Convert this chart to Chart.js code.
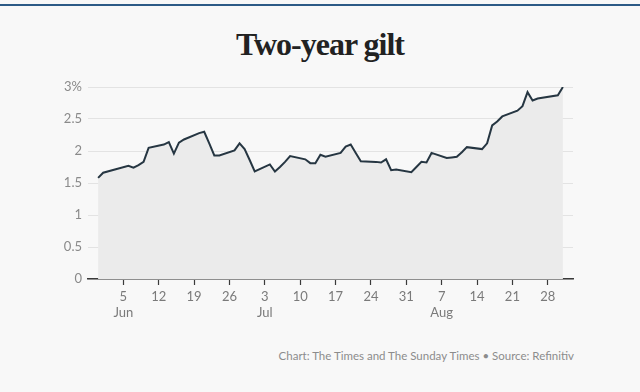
<!DOCTYPE html>
<html lang="en">
<head>
<meta charset="UTF-8">
<title>Two-year gilt</title>
<script src="https://cdn.jsdelivr.net/npm/chart.js@4.4.7/dist/chart.umd.min.js"></script>
<style>
*{margin:0;padding:0;box-sizing:border-box}
body{width:640px;height:392px;background:#f8f8f8;position:relative;overflow:hidden;font-family:Lato,"Open Sans",sans-serif}
.rule{position:absolute;left:0;top:4px;width:640px;height:2px;background:#2c5a86}
h1{position:absolute;left:0;top:24px;width:640px;text-align:center;font-family:"Liberation Serif",serif;font-weight:700;font-size:32px;letter-spacing:-1px;color:#222;line-height:40px}
.wrap{position:absolute;left:0;top:70px;width:640px;height:270px}
.source{position:absolute;right:66px;top:349px;font-size:11.5px;color:#8c8c8c;letter-spacing:0px}
</style>
</head>
<body>
<div class="rule"></div>
<h1>Two-year gilt</h1>
<div class="wrap"><canvas id="c"></canvas></div>
<div class="source">Chart: The Times and The Sunday Times • Source: Refinitiv</div>
<script>
// trading days, yield in %
var DATES = ["2022-05-31","2022-06-01","2022-06-06","2022-06-07","2022-06-08","2022-06-09","2022-06-10",
  "2022-06-13","2022-06-14","2022-06-15","2022-06-16","2022-06-17","2022-06-20","2022-06-21","2022-06-22",
  "2022-06-23","2022-06-24","2022-06-27","2022-06-28","2022-06-29","2022-06-30","2022-07-01","2022-07-04",
  "2022-07-05","2022-07-06","2022-07-07","2022-07-08","2022-07-11","2022-07-12","2022-07-13","2022-07-14",
  "2022-07-15","2022-07-18","2022-07-19","2022-07-20","2022-07-21","2022-07-22","2022-07-25","2022-07-26",
  "2022-07-27","2022-07-28","2022-07-29","2022-08-01","2022-08-02","2022-08-03","2022-08-04","2022-08-05",
  "2022-08-08","2022-08-09","2022-08-10","2022-08-11","2022-08-12","2022-08-15","2022-08-16","2022-08-17",
  "2022-08-18","2022-08-19","2022-08-22","2022-08-23","2022-08-24","2022-08-25","2022-08-26","2022-08-30",
  "2022-08-31"];
var YIELDS = [1.58,1.66,1.77,1.74,1.78,1.83,2.05,
  2.10,2.14,1.96,2.13,2.18,2.28,2.30,2.12,
  1.93,1.93,2.01,2.12,2.03,1.86,1.68,1.79,
  1.68,1.75,1.83,1.92,1.87,1.81,1.81,1.94,
  1.91,1.97,2.07,2.10,1.97,1.84,1.83,1.82,
  1.87,1.70,1.71,1.67,1.75,1.83,1.82,1.97,
  1.89,1.90,1.91,1.98,2.06,2.03,2.12,2.40,
  2.46,2.54,2.63,2.70,2.92,2.79,2.82,2.87,
  3.00];
var TICK_DATES = ["2022-06-05","2022-06-12","2022-06-19","2022-06-26","2022-07-03","2022-07-10","2022-07-17",
  "2022-07-24","2022-07-31","2022-08-07","2022-08-14","2022-08-21","2022-08-28"];
var TICK_DAYS = ["5","12","19","26","3","10","17","24","31","7","14","21","28"];
var TICK_MONTHS = ["Jun","","","","Jul","","","","","Aug","","",""];
var Y_LABELS = ["0","0.5","1","1.5","2","2.5","3%"];

var START = Date.UTC(2022,4,31);
function dayNum(s){ var p = s.split("-"); return (Date.UTC(+p[0],p[1]-1,+p[2]) - START)/86400000; }
var points = DATES.map(function(d,i){ return {x:dayNum(d), y:YIELDS[i]}; });
var tickPos = TICK_DATES.map(dayNum);

var labelFont = {family:"Lato", size:13};
new Chart(document.getElementById("c"),{
  type:"line",
  data:{datasets:[{data:points,borderColor:"#263642",borderWidth:2,backgroundColor:"#ebebeb",fill:"origin",pointRadius:0,tension:0}]},
  options:{
    responsive:true,maintainAspectRatio:false,animation:false,
    layout:{padding:{top:17,right:67,bottom:0,left:0}},
    plugins:{legend:{display:false},tooltip:{enabled:false}},
    scales:{
      x:{type:"linear",min:-2,max:94,
        afterBuildTicks:function(s){ s.ticks = tickPos.map(function(v){ return {value:v}; }); },
        afterFit:function(s){ s.height = 61; },
        grid:{drawOnChartArea:false,drawTicks:true,tickLength:6,tickColor:"#3a3a3a",tickWidth:1.2},
        border:{display:true,color:"#3a3a3a",width:1.5},
        ticks:{color:"#7a7a7a",font:labelFont,padding:4,maxRotation:0,autoSkip:false,
          callback:function(v){ var i = tickPos.indexOf(v); if(i<0) return ""; return TICK_MONTHS[i] ? [TICK_DAYS[i],TICK_MONTHS[i]] : TICK_DAYS[i]; }}
      },
      y:{min:0,max:3,
        afterBuildTicks:function(s){ s.ticks = Y_LABELS.map(function(l,i){ return {value:i*0.5}; }); },
        afterFit:function(s){ s.width = 88; },
        grid:{color:"#e3e3e3",lineWidth:1,drawTicks:false},
        border:{display:false},
        ticks:{color:"#8a8a8a",font:labelFont,padding:6,callback:function(v,i){ return Y_LABELS[Math.round(v*2)]; }}
      }
    }
  }
});
</script>
</body>
</html>
